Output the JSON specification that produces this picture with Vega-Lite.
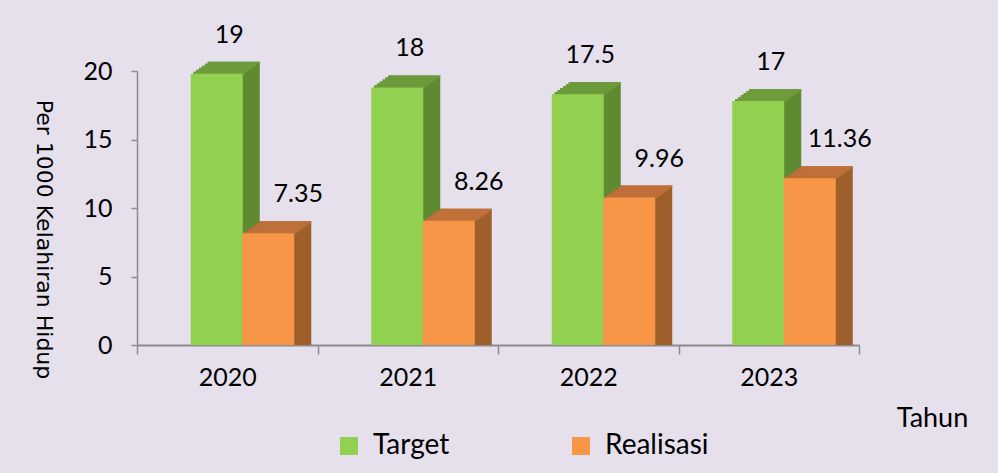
{
 "$schema": "https://vega.github.io/schema/vega-lite/v6.json",
 "width": 722, "height": 274,
 "autosize": {"type": "none"},
 "padding": {"left": 137, "top": 71, "right": 139, "bottom": 128},
 "background": "#E5E0EC",
 "config": {"view": {"stroke": null}, "font": "Lato"},
 "data": {"values": [
  {"tahun": "2020", "seri": "Target", "nilai": 19},
  {"tahun": "2020", "seri": "Realisasi", "nilai": 7.35},
  {"tahun": "2021", "seri": "Target", "nilai": 18},
  {"tahun": "2021", "seri": "Realisasi", "nilai": 8.26},
  {"tahun": "2022", "seri": "Target", "nilai": 17.5},
  {"tahun": "2022", "seri": "Realisasi", "nilai": 9.96},
  {"tahun": "2023", "seri": "Target", "nilai": 17},
  {"tahun": "2023", "seri": "Realisasi", "nilai": 11.36}
 ]},
 "encoding": {
  "x": {"field": "tahun", "type": "ordinal", "scale": {"paddingInner": 0, "paddingOuter": 0},
   "axis": {"labelAngle": 0, "labelFont": "Lato", "labelFontSize": 25, "labelColor": "#000000", "labelPadding": 11,
    "domainColor": "#8C8C8C", "domainWidth": 2, "tickColor": "#8C8C8C", "tickWidth": 1.5, "tickSize": 9, "tickBand": "extent",
    "title": "Tahun", "titleX": 795, "titleY": 73, "titleAlign": "center", "titleBaseline": "middle",
    "titleFont": "Lato", "titleFontSize": 27, "titleFontWeight": "normal", "titleColor": "#000000"}},
  "y": {"field": "nilai", "type": "quantitative", "stack": null, "scale": {"domain": [0, 20], "nice": false},
   "axis": {"values": [0, 5, 10, 15, 20], "grid": false, "labelFont": "Lato", "labelFontSize": 25, "labelColor": "#000000", "labelPadding": 19,
    "domainColor": "#8C8C8C", "domainWidth": 1.5, "tickColor": "#8C8C8C", "tickWidth": 1.5, "tickSize": 6,
    "title": "Per 1000 Kelahiran Hidup", "titleAngle": 90, "titleX": -94, "titleY": 168, "titleAlign": "center", "titleBaseline": "middle",
    "titleFont": "DejaVu Sans", "titleFontSize": 22, "titleFontWeight": "normal", "titleColor": "#000000"}}
 },
 "layer": [
  {"transform": [{"filter": "datum.seri==='Target'"}], "mark": {"type": "bar", "width": 52, "color": "#5E8A31", "xOffset": 6.5, "yOffset": -23, "y2Offset": -23}},
  {"transform": [{"filter": "datum.seri==='Target'"}], "mark": {"type": "bar", "width": 52, "color": "#5E8A31", "xOffset": 3.67, "yOffset": -21, "y2Offset": -21}},
  {"transform": [{"filter": "datum.seri==='Target'"}], "mark": {"type": "bar", "width": 52, "color": "#5E8A31", "xOffset": 0.83, "yOffset": -19, "y2Offset": -19}},
  {"transform": [{"filter": "datum.seri==='Target'"}], "mark": {"type": "bar", "width": 52, "color": "#5E8A31", "xOffset": -2, "yOffset": -17, "y2Offset": -17}},
  {"transform": [{"filter": "datum.seri==='Target'"}], "mark": {"type": "bar", "width": 52, "color": "#5E8A31", "xOffset": -4.83, "yOffset": -15, "y2Offset": -15}},
  {"transform": [{"filter": "datum.seri==='Target'"}], "mark": {"type": "bar", "width": 52, "color": "#5E8A31", "xOffset": -7.67, "yOffset": -13, "y2Offset": -13}},
  {"transform": [{"filter": "datum.seri==='Target'"}], "mark": {"type": "bar", "width": 52, "color": "#6E9B3B", "xOffset": 6.5, "yOffset": -23, "y2Offset": -20.8}, "encoding": {"y2": {"field": "nilai"}}},
  {"transform": [{"filter": "datum.seri==='Target'"}], "mark": {"type": "bar", "width": 52, "color": "#6E9B3B", "xOffset": 3.67, "yOffset": -21, "y2Offset": -18.8}, "encoding": {"y2": {"field": "nilai"}}},
  {"transform": [{"filter": "datum.seri==='Target'"}], "mark": {"type": "bar", "width": 52, "color": "#6E9B3B", "xOffset": 0.83, "yOffset": -19, "y2Offset": -16.8}, "encoding": {"y2": {"field": "nilai"}}},
  {"transform": [{"filter": "datum.seri==='Target'"}], "mark": {"type": "bar", "width": 52, "color": "#6E9B3B", "xOffset": -2, "yOffset": -17, "y2Offset": -14.8}, "encoding": {"y2": {"field": "nilai"}}},
  {"transform": [{"filter": "datum.seri==='Target'"}], "mark": {"type": "bar", "width": 52, "color": "#6E9B3B", "xOffset": -4.83, "yOffset": -15, "y2Offset": -12.8}, "encoding": {"y2": {"field": "nilai"}}},
  {"transform": [{"filter": "datum.seri==='Target'"}], "mark": {"type": "bar", "width": 52, "color": "#6E9B3B", "xOffset": -7.67, "yOffset": -13, "y2Offset": -10.8}, "encoding": {"y2": {"field": "nilai"}}},
  {"transform": [{"filter": "datum.seri==='Target'"}], "mark": {"type": "bar", "width": 52, "xOffset": -10.5, "yOffset": -11, "y2Offset": -11},
   "encoding": {"color": {"field": "seri", "type": "nominal", "scale": {"domain": ["Target", "Realisasi"], "range": ["#92D050", "#F79646"]},
    "legend": {"orient": "none", "legendX": 198, "legendY": 361, "direction": "horizontal", "title": null, "symbolType": "square", "symbolSize": 324,
     "symbolStrokeWidth": 0, "symbolOpacity": 1, "labelFont": "Lato", "labelFontSize": 28, "labelColor": "#000000", "labelOffset": 10, "columnPadding": 117, "padding": 0, "labelLimit": 300}}}},
  {"transform": [{"filter": "datum.seri==='Realisasi'"}], "mark": {"type": "bar", "width": 52, "color": "#9E5F2B", "xOffset": 58, "yOffset": -23, "y2Offset": -23}},
  {"transform": [{"filter": "datum.seri==='Realisasi'"}], "mark": {"type": "bar", "width": 52, "color": "#9E5F2B", "xOffset": 55.17, "yOffset": -21, "y2Offset": -21}},
  {"transform": [{"filter": "datum.seri==='Realisasi'"}], "mark": {"type": "bar", "width": 52, "color": "#9E5F2B", "xOffset": 52.33, "yOffset": -19, "y2Offset": -19}},
  {"transform": [{"filter": "datum.seri==='Realisasi'"}], "mark": {"type": "bar", "width": 52, "color": "#9E5F2B", "xOffset": 49.5, "yOffset": -17, "y2Offset": -17}},
  {"transform": [{"filter": "datum.seri==='Realisasi'"}], "mark": {"type": "bar", "width": 52, "color": "#9E5F2B", "xOffset": 46.67, "yOffset": -15, "y2Offset": -15}},
  {"transform": [{"filter": "datum.seri==='Realisasi'"}], "mark": {"type": "bar", "width": 52, "color": "#9E5F2B", "xOffset": 43.83, "yOffset": -13, "y2Offset": -13}},
  {"transform": [{"filter": "datum.seri==='Realisasi'"}], "mark": {"type": "bar", "width": 52, "color": "#C0713A", "xOffset": 58, "yOffset": -23, "y2Offset": -20.8}, "encoding": {"y2": {"field": "nilai"}}},
  {"transform": [{"filter": "datum.seri==='Realisasi'"}], "mark": {"type": "bar", "width": 52, "color": "#C0713A", "xOffset": 55.17, "yOffset": -21, "y2Offset": -18.8}, "encoding": {"y2": {"field": "nilai"}}},
  {"transform": [{"filter": "datum.seri==='Realisasi'"}], "mark": {"type": "bar", "width": 52, "color": "#C0713A", "xOffset": 52.33, "yOffset": -19, "y2Offset": -16.8}, "encoding": {"y2": {"field": "nilai"}}},
  {"transform": [{"filter": "datum.seri==='Realisasi'"}], "mark": {"type": "bar", "width": 52, "color": "#C0713A", "xOffset": 49.5, "yOffset": -17, "y2Offset": -14.8}, "encoding": {"y2": {"field": "nilai"}}},
  {"transform": [{"filter": "datum.seri==='Realisasi'"}], "mark": {"type": "bar", "width": 52, "color": "#C0713A", "xOffset": 46.67, "yOffset": -15, "y2Offset": -12.8}, "encoding": {"y2": {"field": "nilai"}}},
  {"transform": [{"filter": "datum.seri==='Realisasi'"}], "mark": {"type": "bar", "width": 52, "color": "#C0713A", "xOffset": 43.83, "yOffset": -13, "y2Offset": -10.8}, "encoding": {"y2": {"field": "nilai"}}},
  {"transform": [{"filter": "datum.seri==='Realisasi'"}], "mark": {"type": "bar", "width": 52, "xOffset": 41, "yOffset": -11, "y2Offset": -11},
   "encoding": {"color": {"field": "seri", "type": "nominal", "scale": {"domain": ["Target", "Realisasi"], "range": ["#92D050", "#F79646"]},
    "legend": {"orient": "none", "legendX": 198, "legendY": 361, "direction": "horizontal", "title": null, "symbolType": "square", "symbolSize": 324,
     "symbolStrokeWidth": 0, "symbolOpacity": 1, "labelFont": "Lato", "labelFontSize": 28, "labelColor": "#000000", "labelOffset": 10, "columnPadding": 117, "padding": 0, "labelLimit": 300}}}},
  {"transform": [{"filter": "datum.seri==='Target'"}], "mark": {"type": "text", "font": "Lato", "fontSize": 25, "color": "#000000", "dx": 2, "dy": -50, "baseline": "middle"},
   "encoding": {"text": {"field": "nilai", "type": "quantitative", "format": ".4~g"}}},
  {"transform": [{"filter": "datum.seri==='Realisasi'"}], "mark": {"type": "text", "font": "Lato", "fontSize": 25, "color": "#000000", "dx": 71, "dy": -50, "baseline": "middle"},
   "encoding": {"text": {"field": "nilai", "type": "quantitative", "format": ".4~g"}}}
 ]
}
